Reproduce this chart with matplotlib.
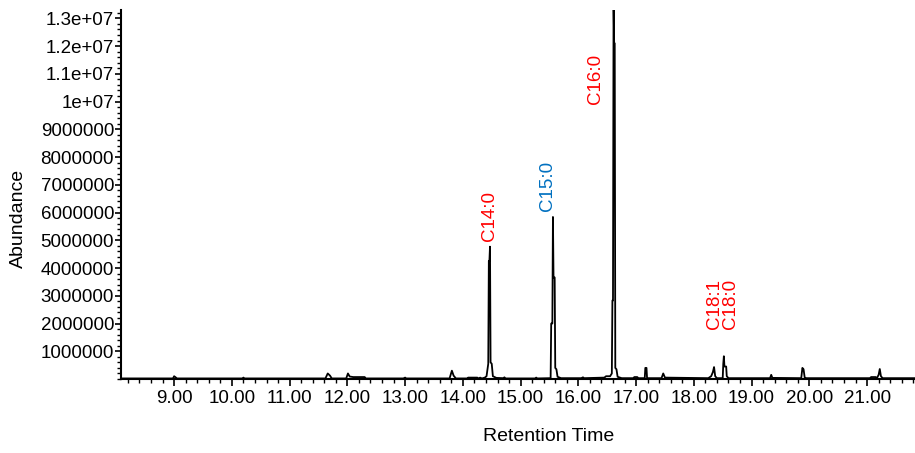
import numpy as np
import matplotlib.pyplot as plt
from matplotlib.ticker import MultipleLocator, FixedLocator

plt.rcParams['font.family'] = ['Liberation Sans', 'DejaVu Sans']

# Chromatogram trace (retention time in min, abundance in millions)
rt = [8.08, 8.98, 9.00, 9.02, 9.05, 10.18, 10.20, 10.22,
      11.62, 11.66, 11.70, 11.73, 11.98, 12.01, 12.04, 12.10, 12.30, 12.32,
      12.97, 13.00, 13.02, 13.77, 13.81, 13.84, 13.88,
      14.08, 14.09, 14.25, 14.27, 14.30, 14.33, 14.38, 14.41,
      14.44, 14.45, 14.46, 14.47, 14.48, 14.50, 14.52, 14.58,
      14.70, 14.72, 14.74, 15.25, 15.27, 15.29,
      15.52, 15.53, 15.55, 15.56, 15.57, 15.59, 15.60, 15.62, 15.64, 15.70,
      16.05, 16.08, 16.10, 16.45, 16.48, 16.55, 16.58,
      16.59, 16.60, 16.61, 16.62, 16.63, 16.64, 16.66, 16.68, 16.75,
      16.95, 16.97, 17.02, 17.04, 17.15, 17.16, 17.18, 17.19,
      17.44, 17.47, 17.50, 18.25, 18.30, 18.33, 18.35, 18.37, 18.40,
      18.50, 18.51, 18.52, 18.53, 18.56, 18.57, 18.60,
      19.32, 19.34, 19.36, 19.86, 19.88, 19.90, 19.92, 19.95,
      21.05, 21.07, 21.15, 21.17, 21.20, 21.22, 21.24, 21.27, 21.83]
abund = [0.02, 0.02, 0.10, 0.07, 0.02, 0.02, 0.05, 0.02,
         0.02, 0.20, 0.12, 0.02, 0.02, 0.20, 0.09, 0.07, 0.07, 0.02,
         0.02, 0.05, 0.02, 0.02, 0.30, 0.12, 0.02,
         0.02, 0.05, 0.05, 0.02, 0.05, 0.02, 0.05, 0.10,
         0.55, 4.25, 4.25, 4.77, 0.60, 0.55, 0.10, 0.04,
         0.03, 0.06, 0.02, 0.02, 0.05, 0.02,
         0.03, 2.00, 2.00, 5.84, 3.66, 3.66, 0.40, 0.35, 0.08, 0.03,
         0.03, 0.06, 0.03, 0.05, 0.10, 0.10, 0.20,
         2.83, 2.83, 13.6, 12.1, 12.1, 0.40, 0.35, 0.08, 0.03,
         0.03, 0.07, 0.07, 0.03, 0.03, 0.40, 0.40, 0.03,
         0.03, 0.20, 0.05, 0.03, 0.10, 0.25, 0.43, 0.10, 0.03,
         0.03, 0.55, 0.82, 0.45, 0.45, 0.10, 0.03,
         0.03, 0.15, 0.04, 0.03, 0.40, 0.35, 0.05, 0.03,
         0.03, 0.07, 0.07, 0.03, 0.15, 0.36, 0.10, 0.03, 0.03]

# Peak labels: (text, x, y bottom in millions, colour)
labels = ['C14:0', 'C15:0', 'C16:0', 'C18:1', 'C18:0']
label_x = [14.47, 15.46, 16.29, 18.35, 18.64]
label_y = [4.98, 6.06, 9.9, 1.8, 1.8]
label_colors = ['#FF0000', '#0070C0', '#FF0000', '#FF0000', '#FF0000']

x_ticks = np.arange(9, 22, 1)
y_ticks = np.arange(1, 14) * 1e6
y_tick_labels = ['1000000', '2000000', '3000000', '4000000', '5000000',
                 '6000000', '7000000', '8000000', '9000000',
                 '1e+07', '1.1e+07', '1.2e+07', '1.3e+07']

fig = plt.figure(figsize=(9.15, 4.53), dpi=100)
ax = fig.add_axes([121 / 915, 1 - 379 / 453, 794 / 915, 369 / 453])

ax.plot(rt, np.array(abund) * 1e6, color='black', lw=1.3)

for txt, x, y, c in zip(labels, label_x, label_y, label_colors):
    ax.text(x, y * 1e6, txt, rotation=90, ha='center', va='bottom',
            color=c, fontsize=13.5)

ax.set_xlim(8.08, 21.83)
ax.set_ylim(0, 13.3e6)

ax.xaxis.set_major_locator(FixedLocator(x_ticks))
ax.set_xticklabels([f'{t:.2f}' for t in x_ticks])
ax.xaxis.set_minor_locator(MultipleLocator(0.2))
ax.yaxis.set_major_locator(FixedLocator(y_ticks))
ax.set_yticklabels(y_tick_labels)
ax.yaxis.set_minor_locator(MultipleLocator(0.2e6))

ax.tick_params(axis='both', which='major', labelsize=13.5, width=1.2, color='black')
ax.tick_params(axis='x', which='major', length=5, pad=3)
ax.tick_params(axis='y', which='major', length=4, pad=1)
ax.tick_params(axis='both', which='minor', length=3, width=1.0)

for s in ['top', 'right']:
    ax.spines[s].set_visible(False)
for s in ['left', 'bottom']:
    ax.spines[s].set_linewidth(1.5)

ax.set_xlabel('Retention Time', fontsize=14)
ax.xaxis.set_label_coords((549 - 121) / 794, -(428 - 379) / 369)
fig.text(18 / 915, 1 - 218 / 453, 'Abundance', rotation=90, fontsize=14,
         ha='center', va='center')

fig.savefig('out.png', dpi=100)
